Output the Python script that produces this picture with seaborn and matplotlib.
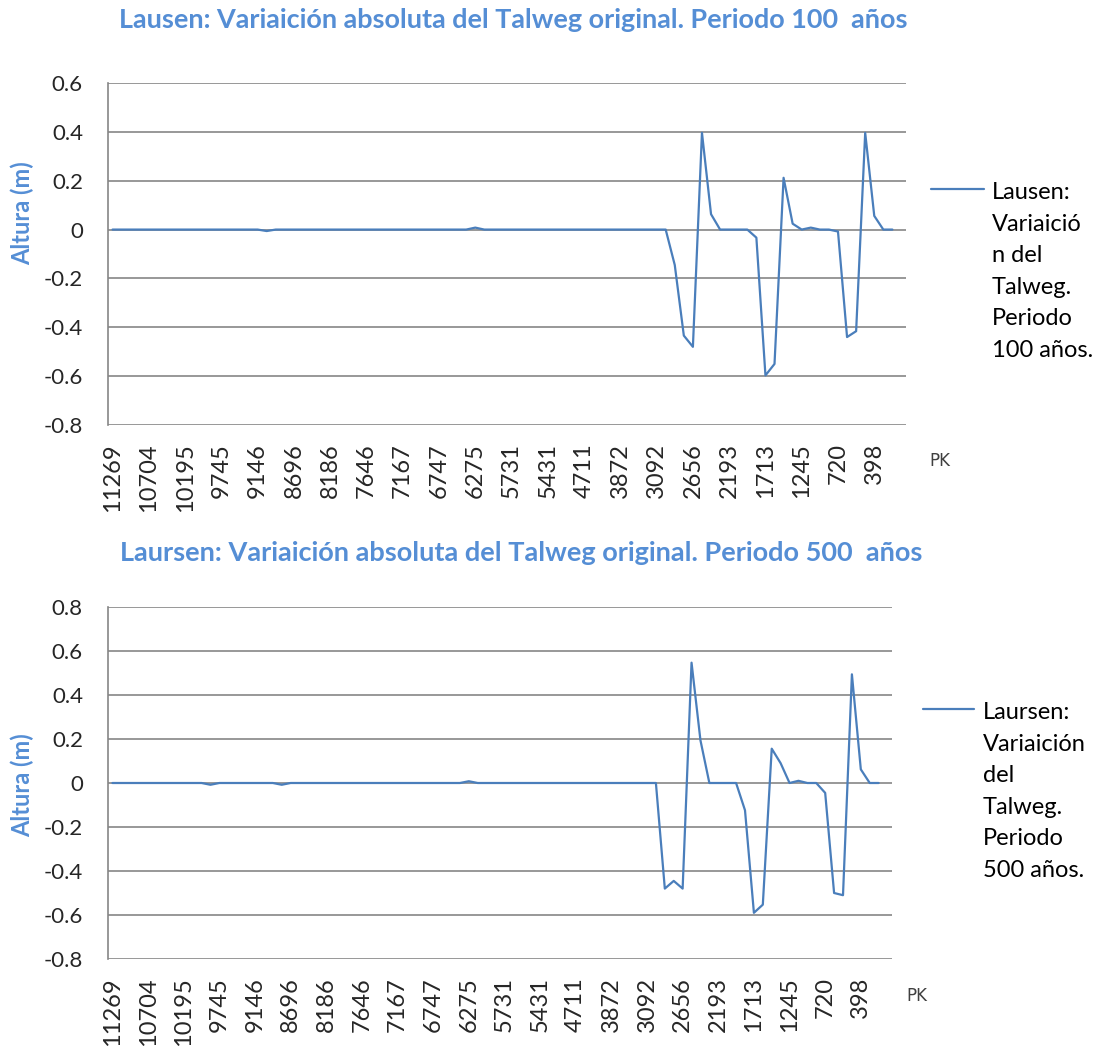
import numpy as np
import pandas as pd
import seaborn as sns
import matplotlib
matplotlib.use("Agg")
import matplotlib.pyplot as plt
from matplotlib.lines import Line2D

# ---------------- data ----------------
pk_tick_labels = ["11269", "10704", "10195", "9745", "9146", "8696", "8186", "7646",
                  "7167", "6747", "6275", "5731", "5431", "4711", "3872", "3092",
                  "2656", "2193", "1713", "1245", "720", "398"]
n_categories = 88
nan = np.nan

talweg_100 = [
    0, 0, 0, 0, 0, 0, 0, 0, 0, 0,
    0, 0, 0, 0, 0, 0, 0, -0.006, 0, 0,
    0, 0, 0, 0, 0, 0, 0, 0, 0, 0,
    0, 0, 0, 0, 0, 0, 0, 0, 0, 0,
    0.008, 0, 0, 0, 0, 0, 0, 0, 0, 0,
    0, 0, 0, 0, 0, 0, 0, 0, 0, 0,
    0, 0, -0.145, -0.434, -0.48, 0.396, 0.063, 0, 0, 0,
    0, -0.033, -0.597, -0.55, 0.212, 0.024, 0, 0.008, 0, 0,
    -0.008, -0.44, -0.416, 0.396, 0.056, 0, 0, nan,
]

talweg_500 = [
    0, 0, 0, 0, 0, 0, 0, 0, 0, 0,
    0, -0.008, 0, 0, 0, 0, 0, 0, 0, -0.008,
    0, 0, 0, 0, 0, 0, 0, 0, 0, 0,
    0, 0, 0, 0, 0, 0, 0, 0, 0, 0,
    0.008, 0, 0, 0, 0, 0, 0, 0, 0, 0,
    0, 0, 0, 0, 0, 0, 0, 0, 0, 0,
    0, 0, -0.48, -0.445, -0.48, 0.547, 0.194, 0, 0, 0,
    0, -0.124, -0.59, -0.553, 0.156, 0.09, 0, 0.01, 0, 0,
    -0.045, -0.50, -0.51, 0.494, 0.062, 0, 0, nan,
]

title_100 = "Lausen: Variaición absoluta del Talweg original. Periodo 100  años"
title_500 = "Laursen: Variaición absoluta del Talweg original. Periodo 500  años"
legend_100 = ["Lausen:", "Variaició", "n del", "Talweg.", "Periodo", "100 años."]
legend_500 = ["Laursen:", "Variaición", "del", "Talweg.", "Periodo", "500 años."]
yticks_100 = [-0.8, -0.6, -0.4, -0.2, 0, 0.2, 0.4, 0.6]
yticks_500 = [-0.8, -0.6, -0.4, -0.2, 0, 0.2, 0.4, 0.6, 0.8]

# ---------------- style ----------------
sns.set_theme(style="white")
plt.rcParams["font.family"] = ["Lato", "DejaVu Sans"]

W, H = 1098, 1050
fig = plt.figure(figsize=(W / 100, H / 100), dpi=100)

LINE_C = "#4A7EBB"
GRID_C = "#868686"
TITLE_C = "#558ED5"


def fx(px):
    return px / W


def fy(py):
    return 1 - py / H


def fit_width(txt, target_px):
    r = fig.canvas.get_renderer()
    for _ in range(4):
        w = txt.get_window_extent(renderer=r).width
        txt.set_fontsize(txt.get_fontsize() * target_px / w)


def make_panel(rect, values, yticks, title, title_box, ylabel_y, legend_lines,
               leg_line_x, leg_text_x, leg_y0, pk_xy):
    ax = fig.add_axes(rect)
    df = pd.DataFrame({"idx": np.arange(n_categories), "val": values})
    sns.lineplot(data=df, x="idx", y="val", ax=ax, color=LINE_C, lw=1.6, zorder=3)
    ax.set_xlim(-0.5, n_categories - 0.5)
    ax.set_ylim(yticks[0], yticks[-1])
    ax.set_yticks(yticks)
    ax.set_yticklabels(["0" if v == 0 else f"{v:.1f}" for v in yticks], fontsize=16)
    ax.set_xticks(np.arange(0, n_categories, 4)[:len(pk_tick_labels)])
    ax.set_xticklabels(pk_tick_labels, rotation=90, fontsize=17, va="top", ha="center")
    ax.tick_params(axis="x", length=0, pad=13)
    ax.tick_params(axis="y", length=0, pad=18)
    ax.set_xlabel("")
    ax.set_ylabel("")
    ax.grid(axis="y", color=GRID_C, lw=1.2)
    ax.grid(axis="x", visible=False)
    for s in ["top", "right", "bottom"]:
        ax.spines[s].set_visible(False)
    ax.spines["left"].set_color(GRID_C)
    ax.spines["left"].set_linewidth(1.2)

    # title
    (x0, x1, yc) = title_box
    t = fig.text(fx((x0 + x1) / 2), fy(yc), title, ha="center", va="center",
                 fontsize=17, fontweight="bold", color=TITLE_C)
    fit_width(t, x1 - x0)

    # y label
    fig.text(fx(22), fy(ylabel_y), "Altura (m)", rotation=90, ha="center",
             va="center", fontsize=17, fontweight="bold", color=TITLE_C)

    # x axis title
    fig.text(fx(pk_xy[0]), fy(pk_xy[1]), "PK", ha="center", va="center",
             fontsize=12, color="#404040", family=["DejaVu Sans"])

    # legend
    fig.add_artist(Line2D([fx(leg_line_x[0]), fx(leg_line_x[1])],
                          [fy(leg_y0 - 10), fy(leg_y0 - 10)],
                          transform=fig.transFigure, color=LINE_C, lw=1.6))
    for k, line in enumerate(legend_lines):
        fig.text(fx(leg_text_x), fy(leg_y0 + k * 31.6), line, ha="left",
                 va="baseline", fontsize=17, color="black")
    return ax


make_panel([fx(108), fy(425), fx(906) - fx(108), fy(83) - fy(425)],
           talweg_100, yticks_100, title_100, (118, 908, 20), 213, legend_100,
           (931, 984), 992, 199, (940, 461))

make_panel([fx(108), fy(959), fx(892) - fx(108), fy(607) - fy(959)],
           talweg_500, yticks_500, title_500, (120, 922, 553), 785, legend_500,
           (923, 974), 983, 719, (917, 996))

fig.savefig("out.png", dpi=100)
